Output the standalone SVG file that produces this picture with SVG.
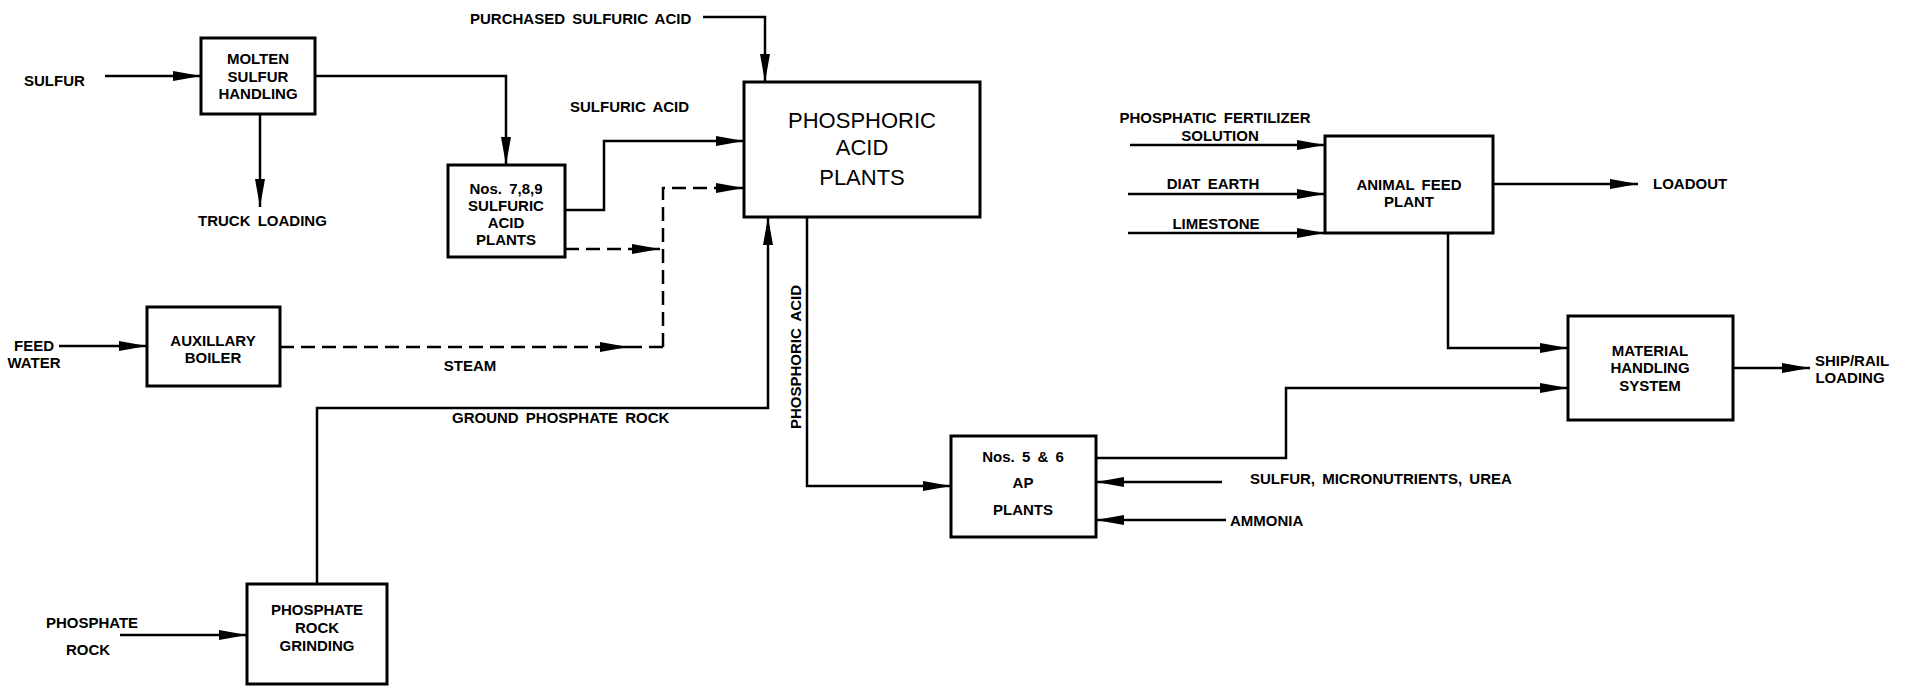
<svg xmlns="http://www.w3.org/2000/svg" width="1912" height="686" viewBox="0 0 1912 686">
<defs>
<style>
.t{font-family:"Liberation Sans",Arial,sans-serif;font-weight:bold;font-size:15px;fill:#000;dominant-baseline:central;word-spacing:3px}
.m{text-anchor:middle}
.big{font-weight:normal;font-size:22px}
.box{fill:#fff;stroke:#000;stroke-width:3}
.c{fill:none;stroke:#000;stroke-width:2.5}
.d{fill:none;stroke:#000;stroke-width:2.5;stroke-dasharray:14 7}
</style>
<marker id="ah" markerUnits="userSpaceOnUse" markerWidth="28" markerHeight="10" refX="28" refY="5" orient="auto">
<path d="M0,0 L28,5 L0,10 z" fill="#000"/>
</marker>
</defs>
<rect width="1912" height="686" fill="#fff"/>
<g id="connectors">
<path class="c" d="M105,76 H201" marker-end="url(#ah)"/>
<path class="c" d="M260,114 V207" marker-end="url(#ah)"/>
<path class="c" d="M315,76 H506 V165" marker-end="url(#ah)"/>
<path class="c" d="M703,17 H765 V82" marker-end="url(#ah)"/>
<path class="c" d="M565,210 H604 V141 H744" marker-end="url(#ah)"/>
<path class="d" d="M565,249 H660" marker-end="url(#ah)"/>
<path class="d" d="M663,347 V188 H744" marker-end="url(#ah)"/>
<path class="d" d="M280,347 H628" marker-end="url(#ah)"/>
<path class="d" d="M628,347 H663"/>
<path class="c" d="M59,346 H147" marker-end="url(#ah)"/>
<path class="c" d="M317,584 V408 H768 V217" marker-end="url(#ah)"/>
<path class="c" d="M120,635 H247" marker-end="url(#ah)"/>
<path class="c" d="M807,217 V486 H951" marker-end="url(#ah)"/>
<path class="c" d="M1096,458 H1286 V388 H1568" marker-end="url(#ah)"/>
<path class="c" d="M1222,482 H1096" marker-end="url(#ah)"/>
<path class="c" d="M1226,520 H1096" marker-end="url(#ah)"/>
<path class="c" d="M1130,145 H1325" marker-end="url(#ah)"/>
<path class="c" d="M1128,194 H1325" marker-end="url(#ah)"/>
<path class="c" d="M1128,233 H1325" marker-end="url(#ah)"/>
<path class="c" d="M1493,184 H1638" marker-end="url(#ah)"/>
<path class="c" d="M1448,233 V348 H1568" marker-end="url(#ah)"/>
<path class="c" d="M1733,368 H1810" marker-end="url(#ah)"/>
</g>
<g id="node-molten">
<rect class="box" x="201" y="38" width="114" height="76"/>
<text class="t m" x="258" y="58">MOLTEN</text>
<text class="t m" x="258" y="76">SULFUR</text>
<text class="t m" x="258" y="93">HANDLING</text>
</g>
<g id="node-sulfuric">
<rect class="box" x="448" y="165" width="117" height="92"/>
<text class="t m" x="506" y="188">Nos. 7,8,9</text>
<text class="t m" x="506" y="205">SULFURIC</text>
<text class="t m" x="506" y="222">ACID</text>
<text class="t m" x="506" y="239">PLANTS</text>
</g>
<g id="node-phosacid">
<rect class="box" x="744" y="82" width="236" height="135"/>
<text class="t m big" x="862" y="120">PHOSPHORIC</text>
<text class="t m big" x="862" y="147">ACID</text>
<text class="t m big" x="862" y="177">PLANTS</text>
</g>
<g id="node-boiler">
<rect class="box" x="147" y="307" width="133" height="79"/>
<text class="t m" x="213" y="340">AUXILLARY</text>
<text class="t m" x="213" y="357">BOILER</text>
</g>
<g id="node-grinding">
<rect class="box" x="247" y="584" width="140" height="100"/>
<text class="t m" x="317" y="609">PHOSPHATE</text>
<text class="t m" x="317" y="627">ROCK</text>
<text class="t m" x="317" y="645">GRINDING</text>
</g>
<g id="node-ap">
<rect class="box" x="951" y="436" width="145" height="101"/>
<text class="t m" x="1023" y="456">Nos. 5 &amp; 6</text>
<text class="t m" x="1023" y="482">AP</text>
<text class="t m" x="1023" y="509">PLANTS</text>
</g>
<g id="node-feed">
<rect class="box" x="1325" y="136" width="168" height="97"/>
<text class="t m" x="1409" y="184">ANIMAL FEED</text>
<text class="t m" x="1409" y="201">PLANT</text>
</g>
<g id="node-material">
<rect class="box" x="1568" y="316" width="165" height="104"/>
<text class="t m" x="1650" y="350">MATERIAL</text>
<text class="t m" x="1650" y="367">HANDLING</text>
<text class="t m" x="1650" y="385">SYSTEM</text>
</g>
<g id="labels">
<text class="t" x="24" y="80">SULFUR</text>
<text class="t" x="198" y="220">TRUCK LOADING</text>
<text class="t" x="470" y="18">PURCHASED SULFURIC ACID</text>
<text class="t" x="570" y="106">SULFURIC ACID</text>
<text class="t m" x="34" y="345">FEED</text>
<text class="t m" x="34" y="362">WATER</text>
<text class="t m" x="470" y="365">STEAM</text>
<text class="t" x="452" y="417">GROUND PHOSPHATE ROCK</text>
<text class="t m" transform="translate(795,357) rotate(-90)" x="0" y="0">PHOSPHORIC ACID</text>
<text class="t m" x="92" y="622">PHOSPHATE</text>
<text class="t m" x="88" y="649">ROCK</text>
<text class="t m" x="1215" y="117">PHOSPHATIC FERTILIZER</text>
<text class="t m" x="1220" y="135">SOLUTION</text>
<text class="t m" x="1213" y="183">DIAT EARTH</text>
<text class="t m" x="1216" y="223">LIMESTONE</text>
<text class="t" x="1653" y="183">LOADOUT</text>
<text class="t m" x="1852" y="360">SHIP/RAIL</text>
<text class="t m" x="1850" y="377">LOADING</text>
<text class="t" x="1250" y="478">SULFUR, MICRONUTRIENTS, UREA</text>
<text class="t" x="1230" y="520">AMMONIA</text>
</g>
</svg>
